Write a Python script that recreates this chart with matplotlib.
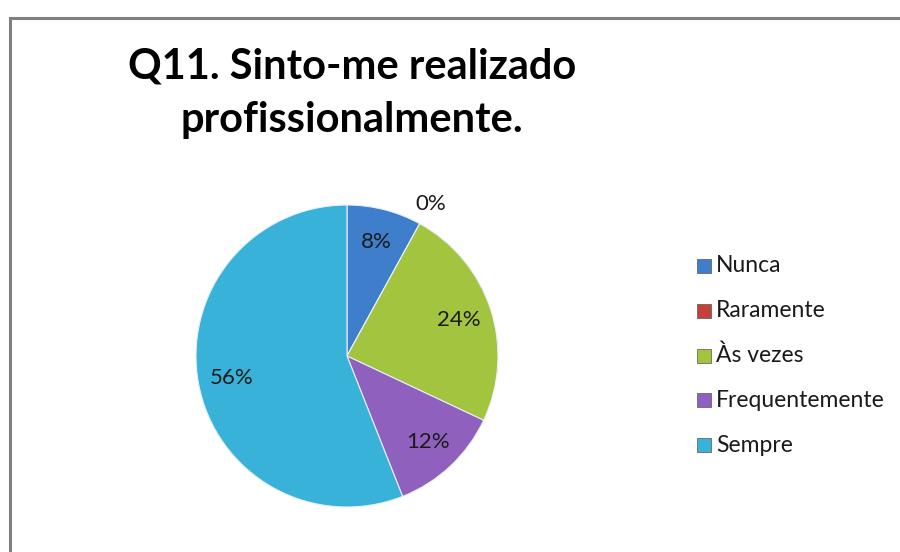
import numpy as np
import matplotlib
matplotlib.use('Agg')
from matplotlib import pyplot as plt
from matplotlib.patches import Rectangle

plt.rcParams['font.family'] = ['Lato', 'DejaVu Sans']

title = 'Q11. Sinto-me realizado\nprofissionalmente.'
categories = ['Nunca', 'Raramente', 'Às vezes', 'Frequentemente', 'Sempre']
values = [8, 0, 24, 12, 56]
colors = ['#3f7ecb', '#c4403d', '#a2c43f', '#9060bf', '#39b2da']

W, H = 900, 552
fig = plt.figure(figsize=(W / 100, H / 100), dpi=100)

# chart frame (only top/left edges visible in the crop)
fig.add_artist(plt.Line2D([9.5 / W, 9.5 / W], [0, 1 - 17.5 / H], color='#808080', lw=2.2,
                          transform=fig.transFigure))
fig.add_artist(plt.Line2D([9.5 / W, 1], [1 - 17.5 / H, 1 - 17.5 / H], color='#808080', lw=2.2,
                          transform=fig.transFigure))

# title, one line per baseline
for i, line in enumerate(title.split('\n')):
    fig.text(352 / W, 1 - (78 + 54 * i) / H, line, ha='center', va='baseline', fontsize=30,
             fontweight='bold', color='black')

cx, cy, r = 347, 356, 151
ax = fig.add_axes([(cx - r) / W, 1 - (cy + r) / H, 2 * r / W, 2 * r / H])
wedges, _, autotexts = ax.pie(values, colors=colors, startangle=90, counterclock=False,
                              radius=1, autopct='%1.0f%%', pctdistance=0.78,
                              wedgeprops=dict(edgecolor='#e8f0f8', linewidth=0.8),
                              textprops=dict(fontsize=16, color='#1a1a1a'))
for w, t, v in zip(wedges, autotexts, values):
    if v == 0:
        ang = np.deg2rad((w.theta1 + w.theta2) / 2)
        t.set_position((1.15 * np.cos(ang), 1.15 * np.sin(ang)))
ax.set_xlim(-1, 1)
ax.set_ylim(-1, 1)
ax.set_aspect('auto')
ax.axis('off')

# legend
lx, ly0, dy = 697, 266, 44.8
for i, (name, c) in enumerate(zip(categories, colors)):
    y = ly0 + i * dy
    fig.add_artist(Rectangle((lx / W, 1 - (y + 7) / H), 14 / W, 14 / H, facecolor=c,
                             edgecolor='#555555', linewidth=0.5, transform=fig.transFigure))
    fig.text((lx + 19) / W, 1 - y / H, name, ha='left', va='center', fontsize=16.5,
             color='#1a1a1a')

fig.savefig('out.png', dpi=100)
